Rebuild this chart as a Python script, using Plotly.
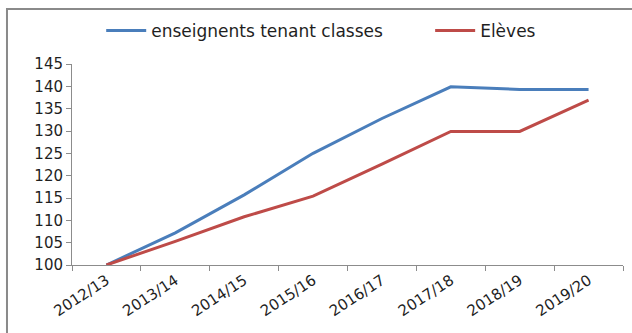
import plotly.graph_objects as go

# School years and index values (base 100 in 2012/13)
years = ["2012/13", "2013/14", "2014/15", "2015/16", "2016/17", "2017/18", "2018/19", "2019/20"]
enseignants = [100, 107.2, 115.7, 125.0, 132.8, 139.9, 139.3, 139.3]
eleves = [100, 105.3, 110.8, 115.4, 122.6, 129.9, 129.9, 136.9]
y_ticks = [100, 105, 110, 115, 120, 125, 130, 135, 140, 145]

font_family = "DejaVu Sans"
text_color = "#1f1f1f"
axis_color = "#8c8c8c"

fig = go.Figure()
fig.add_trace(go.Scatter(
    x=years, y=enseignants, mode="lines", name="enseignents tenant classes",
    line=dict(color="#4A7EBB", width=3), legend="legend",
))
fig.add_trace(go.Scatter(
    x=years, y=eleves, mode="lines", name="Elèves",
    line=dict(color="#BE4B48", width=3), legend="legend2",
))

legend_style = dict(
    orientation="h", xanchor="left", y=1.164, yanchor="middle",
    font=dict(family=font_family, size=17, color=text_color),
    itemwidth=40, bgcolor="rgba(0,0,0,0)",
)

fig.update_layout(
    width=632, height=333,
    margin=dict(l=72, r=9, t=64, b=68),
    paper_bgcolor="white", plot_bgcolor="white",
    font=dict(family=font_family, size=14, color=text_color),
    showlegend=True,
    legend=dict(x=0.053, **legend_style),
    legend2=dict(x=0.65, **legend_style),
    xaxis=dict(
        type="category", range=[-0.5, 7.5], tickson="boundaries",
        showline=True, linecolor=axis_color, linewidth=1,
        ticks="outside", ticklen=5, tickcolor=axis_color,
        tickangle=-33, showgrid=False, zeroline=False,
        tickfont=dict(family=font_family, size=15, color=text_color),
    ),
    yaxis=dict(
        range=[100, 145], tickvals=y_ticks,
        showline=True, linecolor=axis_color, linewidth=1,
        ticks="outside", ticklen=5, tickcolor=axis_color,
        showgrid=False, zeroline=False,
        tickfont=dict(family=font_family, size=15, color=text_color),
    ),
    shapes=[
        dict(type="rect", xref="paper", yref="paper",
             x0=-0.118, x1=1.05, y0=-0.5, y1=1.274,
             line=dict(color="#8a8a8a", width=2), fillcolor="rgba(0,0,0,0)",
             layer="below"),
    ],
)

fig.write_html("out.html")
